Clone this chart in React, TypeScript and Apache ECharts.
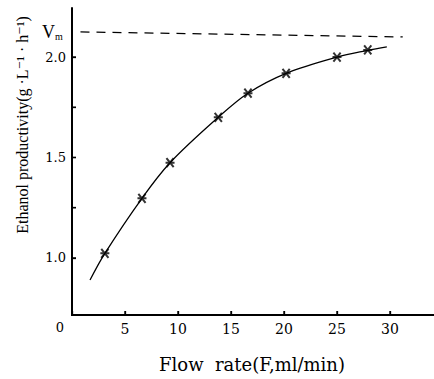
import React, { useEffect, useRef } from "react";
import * as echarts from "echarts";

const pointX = [3.1, 6.6, 9.25, 13.8, 16.6, 20.2, 25.0, 27.9];
const pointY = [1.023, 1.297, 1.474, 1.70, 1.82, 1.919, 2.00, 2.035];

const curveX = [1.7, 3.1, 6.6, 9.25, 13.8, 16.6, 20.2, 25.0, 27.9, 29.7];
const curveY = [0.89, 1.023, 1.297, 1.474, 1.70, 1.82, 1.919, 2.00, 2.033, 2.05];

const vmX = [0.8, 31.2];
const vmY = [2.125, 2.10];

const xTickValues = [0, 5, 10, 15, 20, 25, 30];
const xLabelValues = [5, 10, 15, 20, 25, 30];
const yTickValues = [1.0, 1.25, 1.5, 1.75, 2.0];
const yLabelValues = [1.0, 1.5, 2.0];

const X_MIN = 0;
const X_MAX = 34.15;
const Y_MIN = 0.716;
const Y_MAX = 2.244;

const xName = "Flow  rate(F,ml/min)";
const yName = "Ethanol productivity(g ·L⁻¹ · h⁻¹)";

const SERIF = "'Liberation Serif', 'DejaVu Serif', serif";
const DSERIF = "'DejaVu Serif', 'Liberation Serif', serif";

export default function App() {
  const ref = useRef<HTMLDivElement>(null);
  useEffect(() => {
    if (!ref.current) return;
    const chart = echarts.init(ref.current, null, { renderer: "svg" });
    const star = "path://M-4,-4L4,4M-4,4L4,-4M-5,0L5,0";
    const tickLen = 4;
    const axisStyle = { color: "#000", width: 2, type: "solid" as const };
    const texts = [
      {
        type: "text",
        id: "yname",
        x: 22,
        y: 125,
        rotation: Math.PI / 2,
        style: { text: yName, fontFamily: SERIF, fontSize: 16, fill: "#000", align: "center", verticalAlign: "middle" },
      },
      {
        type: "text",
        id: "xname",
        x: 252,
        y: 364,
        style: { text: xName, fontFamily: DSERIF, fontSize: 18, fill: "#000", align: "center", verticalAlign: "middle" },
      },
      {
        type: "text",
        id: "zero",
        x: 60,
        y: 327,
        style: { text: "0", fontFamily: DSERIF, fontSize: 13, fill: "#000", align: "center", verticalAlign: "middle" },
      },
      {
        type: "text",
        id: "vm",
        x: 42,
        y: 32,
        style: {
          text: "{v|V}{m|m}",
          fontFamily: SERIF,
          fill: "#000",
          verticalAlign: "middle",
          rich: {
            v: { fontSize: 18, fontFamily: SERIF, fill: "#000", verticalAlign: "middle" },
            m: { fontSize: 10, fontFamily: SERIF, fill: "#000", verticalAlign: "bottom", padding: [6, 0, 0, 0] },
          },
        },
      },
    ];
    chart.setOption({
      animation: false,
      backgroundColor: "#ffffff",
      grid: { left: 72, top: 8, right: 0, bottom: 64, outerBoundsMode: "none", containLabel: false },
      xAxis: {
        type: "value",
        min: X_MIN,
        max: X_MAX,
        splitLine: { show: false },
        axisLine: { show: true, onZero: false, lineStyle: axisStyle },
        axisTick: { show: true, inside: true, length: tickLen, customValues: xTickValues, lineStyle: { color: "#000", width: 1.3 } },
        axisLabel: { customValues: xLabelValues, color: "#000", fontFamily: DSERIF, fontSize: 14, margin: 7 },
      },
      yAxis: {
        type: "value",
        min: Y_MIN,
        max: Y_MAX,
        splitLine: { show: false },
        axisLine: { show: true, onZero: false, lineStyle: axisStyle },
        axisTick: { show: true, inside: true, length: tickLen, customValues: yTickValues, lineStyle: { color: "#000", width: 1.3 } },
        axisLabel: {
          customValues: yLabelValues,
          color: "#000",
          fontFamily: DSERIF,
          fontSize: 13,
          margin: 6,
          formatter: (v: number) => v.toFixed(1),
        },
      },
      series: [
        {
          type: "line",
          data: curveX.map((x, i) => [x, curveY[i]]),
          smooth: 0.35,
          showSymbol: false,
          lineStyle: { color: "#000", width: 1.3 },
          z: 2,
        },
        {
          type: "scatter",
          data: pointX.map((x, i) => [x, pointY[i]]),
          symbol: star,
          symbolSize: 9,
          itemStyle: { color: "none", borderColor: "#000", borderWidth: 2 },
          z: 3,
        },
        {
          type: "line",
          data: vmX.map((x, i) => [x, vmY[i]]),
          showSymbol: false,
          lineStyle: { color: "#000", width: 1.3, type: [9, 7] },
        },
      ],
      graphic: texts,
    });
    // axes and ticks placed via the chart's own scales
    const px = (v: number[]) => chart.convertToPixel({ xAxisIndex: 0, yAxisIndex: 0 }, v) as number[];
    const o = px([X_MIN, Y_MIN]);
    const r = px([X_MAX, Y_MIN]);
    const t = px([X_MIN, Y_MAX]);
    const extra: any[] = [];
    if (o && r && t && isFinite(o[0])) {
      extra.push({
        type: "polyline",
        id: "axes",
        z: 100,
        shape: { points: [[t[0], t[1]], [o[0], o[1]], [r[0], r[1]]] },
        style: { stroke: "#000", lineWidth: 2, fill: "none" },
      });
      xTickValues.forEach((v, i) => {
        const p = px([v, Y_MIN]);
        extra.push({
          type: "polygon",
          id: "xt" + i,
          z: 100,
          shape: { points: [[p[0] - 0.7, p[1]], [p[0] + 0.7, p[1]], [p[0] + 0.7, p[1] - tickLen], [p[0] - 0.7, p[1] - tickLen]] },
          style: { fill: "#000" },
        });
      });
      yTickValues.forEach((v, i) => {
        const p = px([X_MIN, v]);
        extra.push({
          type: "polygon",
          id: "yt" + i,
          z: 100,
          shape: { points: [[p[0], p[1] - 0.7], [p[0] + tickLen, p[1] - 0.7], [p[0] + tickLen, p[1] + 0.7], [p[0], p[1] + 0.7]] },
          style: { fill: "#000" },
        });
      });
      chart.setOption({ graphic: [...texts, ...extra] });
    }
    return () => chart.dispose();
  }, []);
  return <div ref={ref} style={{ position: "fixed", left: 0, top: 0, width: 434, height: 379 }} />;
}
